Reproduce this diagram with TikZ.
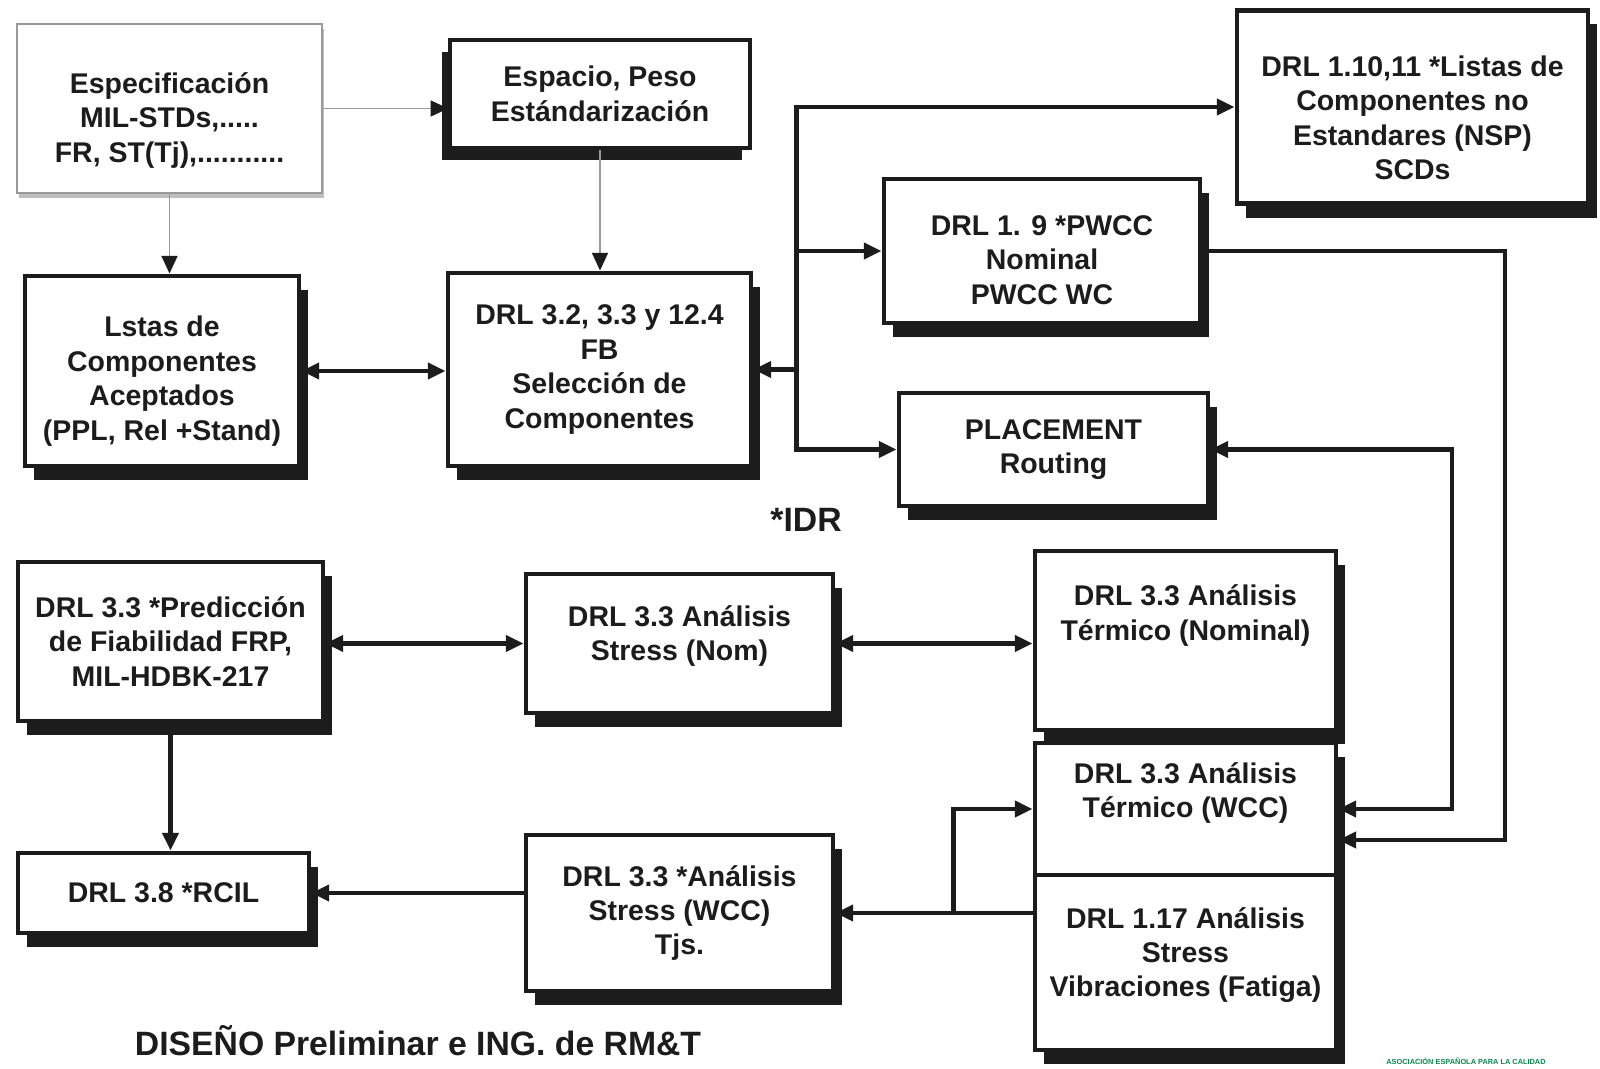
\documentclass[tikz,border=0pt]{standalone}
\usepackage{fontspec}
\setmainfont{Liberation Sans}
\usetikzlibrary{arrows.meta,positioning,shadows}
\definecolor{ink}{HTML}{1C1C1C}
\definecolor{wire}{HTML}{9A9A9A}
\definecolor{aec}{HTML}{0A8A4E}
\newcommand{\boxfont}{\fontsize{8.1}{9.8}\selectfont\bfseries}

\begin{document}
\begin{tikzpicture}[
  dims/.style 2 args={minimum width=#1cm,minimum height=#2cm},
  cell/.style={draw=ink,line width=1.4pt,fill=white,align=center,inner sep=0pt,font=\boxfont,text=ink},
  box/.style={cell,drop shadow={fill=ink,opacity=1,shadow xshift=2.6pt,shadow yshift=-4pt}},
  lite/.style={cell,draw=wire,line width=.8pt,drop shadow={fill=black!25,opacity=1,shadow xshift=.6pt,shadow yshift=-1.4pt}},
  mid/.style={cell,line width=1pt,drop shadow={fill=ink,opacity=1,shadow xshift=-2.4pt,shadow yshift=-3.4pt}},
  link/.style={draw=ink,line width=1.2pt,-{Triangle[length=5pt,width=4.5pt]}},
  both/.style={link,{Triangle[length=5pt,width=4.5pt]}-{Triangle[length=5pt,width=4.5pt]}},
  faint/.style={draw=wire,line width=.5pt,-{Triangle[length=5pt,width=4.5pt,color=ink]}},
  big/.style={font=\fontsize{9.6}{11}\selectfont\bfseries,text=ink}
]
\useasboundingbox (0,0) rectangle (16,-10.68);
\fill[white] (0,0) rectangle (16,-10.68);

% top rows
\node[lite,dims={3.05}{1.69},text height=1.13cm] (spec) at (1.695,-1.085) {Especificación\\MIL-STDs,.....\\FR, ST(Tj),...........};
\node[mid,dims={3.0}{1.08}] (espacio) at (6.0,-.94) {Espacio, Peso\\Estándarización};
\node[box,dims={3.51}{1.935},text height=1.46cm] (nsp) at (14.125,-1.07) {DRL 1.10,11 *Listas de\\Componentes no\\Estandares (NSP)\\SCDs};
\node[box,dims={3.16}{1.44},text height=1.07cm] (pwcc) at (10.42,-2.51) {DRL 1. 9 *PWCC\\Nominal\\PWCC WC};
\node[box,dims={2.74}{1.90},text height=1.44cm] (lstas) at (1.62,-3.71) {Lstas de\\Componentes\\Aceptados\\(PPL, Rel +Stand)};
\node[box,dims={3.03}{1.93}] (sel) at (5.995,-3.695) {DRL 3.2, 3.3 y 12.4\\FB\\Selección de\\Componentes};
\node[box,dims={3.09}{1.13}] (place) at (10.535,-4.495) {PLACEMENT\\Routing};
\node[big] (idr) at (8.06,-5.2) {*IDR};

% lower rows
\node[box,dims={3.05}{1.59}] (pred) at (1.705,-6.415) {DRL 3.3 *Predicción\\de Fiabilidad FRP,\\MIL-HDBK-217};
\node[box,dims={3.07}{1.39},text depth=.21cm] (nom) at (6.795,-6.435) {DRL 3.3 Análisis\\Stress (Nom)};
\node[box,dims={2.91}{.80}] (rcil) at (1.635,-8.93) {DRL 3.8 *RCIL};
\node[box,dims={3.07}{1.56}] (swcc) at (6.795,-9.13) {DRL 3.3 *Análisis\\Stress (WCC)\\Tjs.};
\node[box,dims={3.01}{1.79},text depth=.56cm] (tnom) at (11.855,-6.405) {DRL 3.3 Análisis\\Térmico (Nominal)};
\node[box,dims={3.01}{1.32},text depth=.38cm] (twcc) at (11.855,-8.09) {DRL 3.3 Análisis\\Térmico (WCC)};
\node[box,dims={3.01}{1.75},text depth=.21cm] (vib) at (11.855,-9.625) {DRL 1.17 Análisis\\Stress\\Vibraciones (Fatiga)};

\node[big] (title) at (4.18,-10.41) {DISEÑO Preliminar e ING. de RM\&T};
\node[font=\fontsize{2.1}{2.5}\selectfont\bfseries,text=aec] (aecc) at (14.66,-10.61) {ASOCIACIÓN ESPAÑOLA PARA LA CALIDAD};

% links
\draw[faint] (spec.east) -- (spec.east -| espacio.west);
\draw[faint] (spec.south) -- (spec.south |- lstas.north);
\draw[faint] (espacio.south) -- (espacio.south |- sel.north);
\draw[both] (lstas.east) -- (lstas.east -| sel.west);
\coordinate[right=.43cm of sel.east] (bus);
\draw[link] (bus) -- (sel.east);
\draw[link] (bus) |- (nsp.west);
\draw[link] (bus) |- (pwcc.west);
\draw[link] (bus) |- (place.west);
\coordinate (pr) at (15.05,-8.40);
\draw[link] (pwcc.east) -| (pr) -- (pr -| twcc.east);
\coordinate (pl) at (14.52,-8.09);
\draw[both] (place.east) -| (pl) -- (pl -| twcc.east);
\draw[both] (nom.west -| pred.east) -- (nom.west);
\draw[both] (nom.east) -- (nom.east -| tnom.west);
\draw[link] (pred.south) -- (pred.south |- rcil.north);
\draw[link] (swcc.west |- rcil.east) -- (rcil.east);
\draw[link] (vib.west |- swcc.east) -- (swcc.east);
\coordinate[right=1.18cm of swcc.east] (jn);
\draw[link] (jn) |- (twcc.west);
\end{tikzpicture}
\end{document}
